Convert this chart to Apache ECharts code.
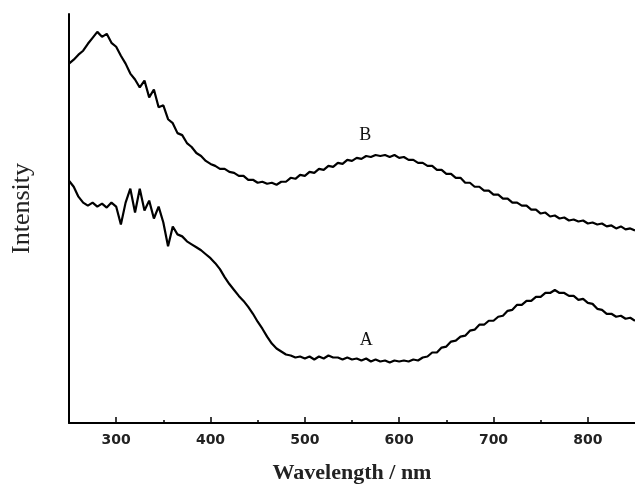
<!DOCTYPE html>
<html><head><meta charset="utf-8">
<script src="https://cdn.jsdelivr.net/npm/echarts@6/dist/echarts.min.js"></script>
<style>html,body{margin:0;padding:0;background:#fff}#c{width:635px;height:489px}</style>
</head><body><div id="c"></div>
<script>
// Wavelength (nm), sampled every 5 nm
var wavelengths = [];
for (var w = 250; w <= 850; w += 5) wavelengths.push(w);

// Curve B (upper spectrum), arbitrary intensity units
var curveB = [362,366,371,375,382,388,394,389,392,383,379,370,362,352,346,338,345,328,336,318,
320,306,302,292,290,282,278,272,269,264,261,259,256,256,253,252,249,249,245,245,
242,243,241,242,240,243,243,247,246,250,249,253,252,256,255,259,258,262,261,265,
264,267,266,269,268,270,269,270,268,270,267,268,265,265,262,262,259,259,255,255,
251,251,247,247,242,242,238,238,234,234,230,230,226,226,222,222,219,219,215,215,
211,212,208,209,206,207,204,205,203,204,201,202,200,201,198,199,196,198,195,196,194];

// Curve A (lower spectrum)
var curveA = [244,238,228,222,219,222,218,221,217,222,218,200,222,236,212,236,214,224,206,218,
202,178,198,190,188,183,180,177,174,170,166,161,155,147,140,134,128,123,117,110,
102,95,87,80,75,72,69,68,66,67,65,67,64,67,65,68,66,66,64,66,
64,65,63,65,62,64,62,63,61,63,62,63,62,64,63,66,67,71,71,76,
77,82,83,87,88,93,94,99,99,103,103,107,108,113,114,119,119,123,123,127,
127,131,131,134,131,131,128,128,124,125,121,120,115,114,110,110,107,108,105,106,103];

var tickValues = ['250','300','350','400','450','500','550','600','650','700','750','800','850'];
var curveNames = ['B', 'A'];

function pairs(ys) { return wavelengths.map(function (x, i) { return [x, ys[i]]; }); }

var chart = echarts.init(document.getElementById('c'), null, {renderer: 'canvas'});
var lineStyle = {color: '#000', width: 2.2};
function labelPoint(text, coord) {
  return {
    symbol: 'circle', symbolSize: 1, silent: true,
    itemStyle: {color: 'transparent'},
    label: {show: true, position: 'inside', formatter: text, color: '#111',
      fontFamily: 'Liberation Serif', fontSize: 18},
    data: [{coord: coord}]
  };
}
chart.setOption({
  animation: false,
  backgroundColor: '#fff',
  grid: {left: 69, right: 0, top: 14, bottom: 63, containLabel: false},
  xAxis: [{
    type: 'value', min: 250, max: 850, interval: 50,
    axisLine: {show: true, lineStyle: {color: '#000', width: 2}},
    axisTick: {show: true, inside: true, length: 3, lineStyle: {color: '#000', width: 1.5}},
    axisLabel: {show: true, margin: 10, color: '#222', fontFamily: 'DejaVu Sans', fontWeight: 'bold', fontSize: 14,
      formatter: function (v) { return v % 100 === 0 ? String(v) : ''; }, showMinLabel: false, showMaxLabel: false},
    splitLine: {show: false},
    name: 'Wavelength / nm', nameLocation: 'middle', nameGap: 39,
    nameTextStyle: {fontFamily: 'Liberation Serif', fontWeight: 'bold', fontSize: 22, color: '#222'}
  }, {
    type: 'category', data: tickValues, boundaryGap: false, position: 'bottom',
    axisLine: {show: false},
    axisTick: {show: true, inside: true, length: 6, lineStyle: {color: '#000', width: 1.5},
      interval: function (i) { return Number(tickValues[i]) % 100 === 0; }},
    axisLabel: {show: false}, splitLine: {show: false}
  }],
  yAxis: {
    type: 'value', min: 0, max: 412,
    axisLine: {show: true, lineStyle: {color: '#000', width: 2}},
    axisTick: {show: false}, axisLabel: {show: false}, splitLine: {show: false},
    name: 'Intensity', nameLocation: 'middle', nameGap: 34, nameRotate: 90,
    nameTextStyle: {fontFamily: 'Liberation Serif', fontSize: 26, color: '#222', padding: [0, 0, 0, 20]}
  },
  series: [{
    name: curveNames[0], type: 'line', data: pairs(curveB), showSymbol: false, symbol: 'none',
    lineStyle: lineStyle, silent: true,
    markPoint: labelPoint(curveNames[0], [564, 290])
  }, {
    name: curveNames[1], type: 'line', data: pairs(curveA), showSymbol: false, symbol: 'none',
    lineStyle: lineStyle, silent: true,
    markPoint: labelPoint(curveNames[1], [565, 83])
  }]
});
</script></body></html>
